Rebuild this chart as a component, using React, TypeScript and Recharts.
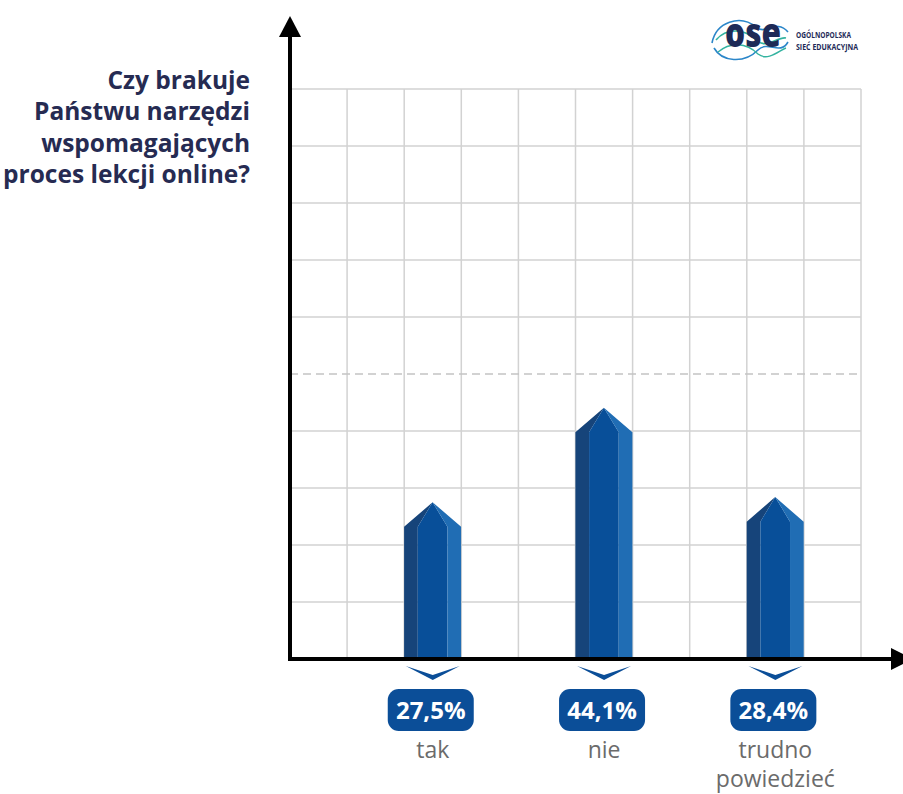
import React from "react";
import { BarChart, Bar, XAxis, YAxis, CartesianGrid, ReferenceLine } from "recharts";

const categories = ["tak", "nie", "trudno powiedzieć"];
const values = [27.5, 44.1, 28.4];
const yTicks = [0, 10, 20, 30, 40, 60, 70, 80, 90, 100];
const gridTicks = [0, 1, 2, 3, 4, 5, 6, 7, 8, 9, 10];
const titleLines = ["Czy brakuje", "Państwu narzędzi", "wspomagających", "proces lekcji online?"];

const data = categories.map((name, i) => ({ name, value: values[i] }));

const fmt = (v: number) => v.toFixed(1).replace(".", ",") + "%";

const DARK = "#16447a";
const MID = "#084f99";
const LIGHT = "#206db4";
const BADGE = "#0b4e98";
const GRID = "#d2d2d2";

const Pencil = (p: any) => {
  const { x, y, width: w, height: h } = p;
  const cx = x + w / 2;
  const yb = y + h;
  const ys = y + w * 0.43;
  const a = x + w * 0.24;
  const b = x + w * 0.76;
  return (
    <g>
      <polygon points={`${x},${ys} ${cx},${y} ${a},${ys} ${a},${yb} ${x},${yb}`} fill={DARK} />
      <polygon points={`${cx},${y} ${b},${ys} ${b},${yb} ${a},${yb} ${a},${ys}`} fill={MID} />
      <polygon points={`${cx},${y} ${x + w},${ys} ${x + w},${yb} ${b},${yb} ${b},${ys}`} fill={LIGHT} />
    </g>
  );
};

const CatTick = (p: any) => {
  const { x, y, payload } = p;
  const i = payload.index;
  const v = values[i];
  const lines = String(payload.value).split(" ");
  return (
    <g>
      <polygon points={`${x - 27},${y + 7} ${x},${y + 21} ${x + 27},${y + 7} ${x},${y + 16}`} fill={BADGE} />
      <rect x={x - 45} y={y + 30} width={86} height={42} rx={11} fill={BADGE} />
      <text x={x - 2} y={y + 60} textAnchor="middle" fill="#ffffff" fontSize={24} fontWeight={700} fontFamily="Open Sans">
        {fmt(v)}
      </text>
      {lines.map((l, k) => (
        <text key={k} x={x} y={y + 99 + k * 29} textAnchor="middle" fill="#6b6b6b" fontSize={23} fontFamily="Open Sans">
          {l}
        </text>
      ))}
    </g>
  );
};

const YArrow = (p: any) => {
  const x = p.x1;
  const top = Math.min(p.y1, p.y2);
  const bottom = Math.max(p.y1, p.y2);
  return (
    <g>
      <line x1={x} x2={x} y1={bottom + 2} y2={top - 55} stroke="#000" strokeWidth={4} />
      <polygon points={`${x},${top - 73} ${x - 11},${top - 52} ${x + 11},${top - 52}`} fill="#000" />
    </g>
  );
};

const XArrow = (p: any) => {
  const y = p.y1;
  const left = Math.min(p.x1, p.x2);
  const right = Math.max(p.x1, p.x2);
  return (
    <g>
      <line x1={left - 2} x2={right + 34} y1={y} y2={y} stroke="#000" strokeWidth={4} />
      <polygon points={`${right + 30},${y - 11} ${right + 30},${y + 11} ${right + 52},${y}`} fill="#000" />
    </g>
  );
};

const verticalGen = (props: any) => {
  const o = props && props.offset;
  if (!o || typeof o.left !== "number" || typeof o.width !== "number") return [];
  const max = gridTicks[gridTicks.length - 1];
  return gridTicks.map((t) => o.left + (o.width * t) / max);
};

const Logo = () => (
  <svg width={203} height={70} style={{ position: "absolute", left: 700, top: 0 }}>
    <g transform="translate(0,10)">
      <path d="M12,33 C16,12 40,4 56,17 C66,26 76,8 88,22" fill="none" stroke="#2b86c9" strokeWidth={1.6} />
      <path d="M14,38 C22,52 44,54 58,40 C68,30 80,46 88,32" fill="none" stroke="#2b86c9" strokeWidth={1.6} />
      <path d="M16,30 C26,18 44,18 56,30 C66,40 78,26 86,28" fill="none" stroke="#34b3a0" strokeWidth={1.6} />
      <path d="M18,42 C30,32 46,32 58,44 C68,52 80,40 86,38" fill="none" stroke="#34b3a0" strokeWidth={1.4} />
      <text x={25} y={37} fontSize={40} fontWeight={800} fill="#1d2a57" fontFamily="Open Sans" textLength={56} lengthAdjust="spacingAndGlyphs">
        ose
      </text>
      <text x={96} y={27.5} fontSize={8.8} fontWeight={700} fill="#1d2a57" fontFamily="Open Sans" textLength={55} lengthAdjust="spacingAndGlyphs">
        OGÓLNOPOLSKA
      </text>
      <text x={96} y={39.5} fontSize={8.8} fontWeight={700} fill="#1d2a57" fontFamily="Open Sans" textLength={62} lengthAdjust="spacingAndGlyphs">
        SIEĆ EDUKACYJNA
      </text>
    </g>
  </svg>
);

export default function App() {
  return (
    <div style={{ position: "absolute", left: 0, top: 0, width: 903, height: 794, background: "#fff", overflow: "hidden" }}>
      <BarChart width={903} height={794} data={data} margin={{ top: 89, right: 42, bottom: 0, left: 290 }}>
        <CartesianGrid stroke={GRID} strokeWidth={1.5} verticalCoordinatesGenerator={verticalGen} />
        <XAxis
          dataKey="name"
          type="category"
          height={135}
          axisLine={false}
          tickLine={false}
          tickSize={0}
          tickMargin={0}
          interval={0}
          padding={{ left: 57.1, right: 0 }}
          tick={<CatTick />}
        />
        <XAxis xAxisId="grid" type="number" domain={[0, 10]} ticks={gridTicks} interval={0} hide />
        <YAxis type="number" domain={[0, 100]} ticks={yTicks} interval={0} hide width={0} />
        <ReferenceLine xAxisId="grid" y={50} stroke="#c4c4c4" strokeWidth={1.5} strokeDasharray="8 5" />
        <Bar dataKey="value" barSize={57} shape={<Pencil />} isAnimationActive={false} />
        <ReferenceLine xAxisId="grid" y={0} ifOverflow="visible" shape={<XArrow />} />
        <ReferenceLine xAxisId="grid" x={0} ifOverflow="visible" shape={<YArrow />} />
      </BarChart>
      <div
        style={{
          position: "absolute",
          left: 0,
          top: 64,
          width: 250,
          textAlign: "right",
          fontFamily: "Open Sans",
          fontWeight: 700,
          fontSize: 24.5,
          lineHeight: "31.3px",
          color: "#262b52",
          whiteSpace: "nowrap",
        }}
      >
        {titleLines.map((l, i) => (
          <div key={i}>{l}</div>
        ))}
      </div>
      <Logo />
    </div>
  );
}
